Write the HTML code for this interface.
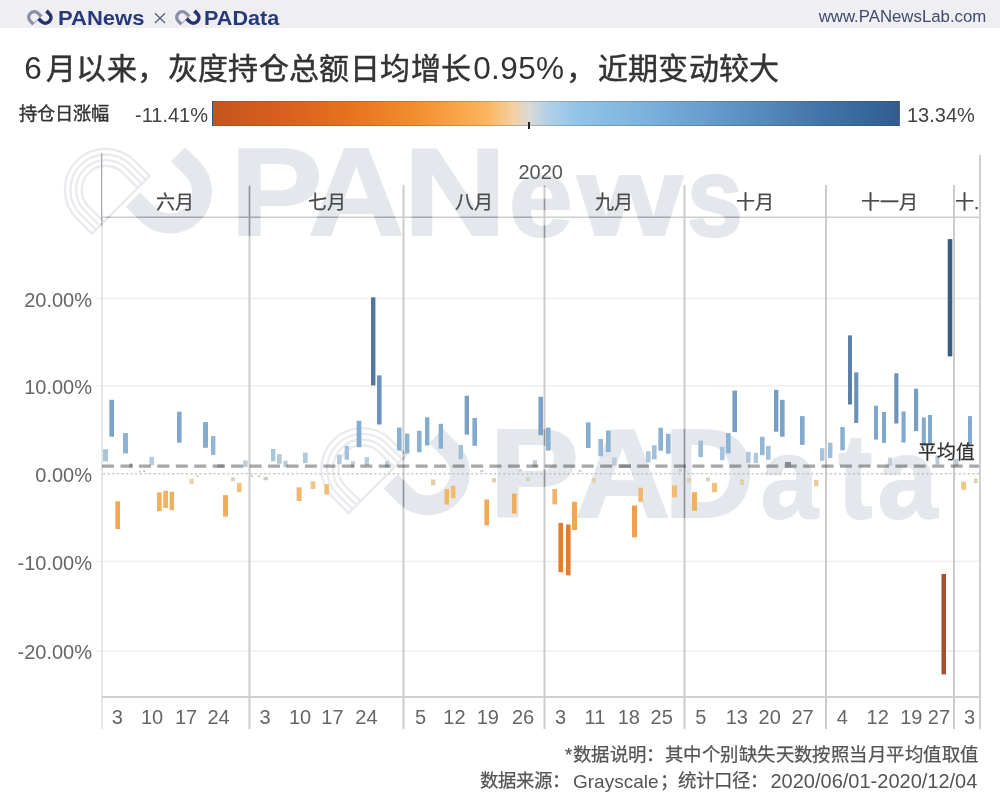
<!DOCTYPE html><html lang="zh-CN"><head><meta charset="utf-8"><style>
*{margin:0;padding:0;box-sizing:border-box}
html,body{width:1000px;height:800px;overflow:hidden;background:#fff}
body{position:relative;font-family:"Liberation Sans", sans-serif;color:#333}
.a{position:absolute;white-space:nowrap;line-height:1}
.hdr{position:absolute;left:0;top:0;width:1000px;height:28px;background:#eeeef3}
.yl{position:absolute;right:908px;font-size:20px;color:#666;line-height:1}
.ml{position:absolute;font-size:19px;color:#4a4a4a;-webkit-text-stroke:0.25px #4a4a4a;line-height:1;transform:translateX(-50%)}
.dl{position:absolute;top:707px;font-size:20px;color:#666;line-height:1;transform:translateX(-50%)}
.t{position:absolute;white-space:nowrap;line-height:1;font-size:30px;color:#333;top:54.2px;-webkit-text-stroke:0.45px #333}
.td{position:absolute;white-space:nowrap;line-height:1;font-size:31.5px;color:#333;top:52.8px}

</style></head><body>
<div class="hdr"></div>
<svg class="a" style="left:0;top:0" width="1000" height="800" viewBox="0 0 1000 800">
<defs><mask id="wmm" maskUnits="userSpaceOnUse" x="0" y="0" width="1000" height="800"><rect width="1000" height="800" fill="#000"/><g>
<path d="M149.65,175.95 L134.45,160.75 A40.80,40.80 0 0 0 76.75,218.45 L91.95,233.65" fill="none" stroke="#fff" stroke-width="2.3"/>
<path d="M145.69,179.91 L130.49,164.71 A35.20,35.20 0 0 0 80.71,214.49 L95.91,229.69" fill="none" stroke="#fff" stroke-width="2.3"/>
<path d="M141.73,183.87 L126.53,168.67 A29.60,29.60 0 0 0 84.67,210.53 L99.87,225.73" fill="none" stroke="#fff" stroke-width="2.3"/>
<path d="M137.77,187.83 L122.57,172.63 A24.00,24.00 0 0 0 88.63,206.57 L103.83,221.77" fill="none" stroke="#fff" stroke-width="2.3"/>
<path d="M150.50,175.10 L91.10,234.50" stroke="#fff" stroke-width="2.4"/>
<path d="M178.13,154.38 L192.63,168.87 A32.00,32.00 0 0 1 147.37,214.13 L132.88,199.63" fill="none" stroke="#fff" stroke-width="20"/>
<text transform="translate(230.33,235.00) scale(1.082,0.971)" font-family="Liberation Sans" font-weight="bold" font-size="128" fill="#fff" stroke="#fff" stroke-width="1.95" stroke-linejoin="round">P</text>
<text transform="translate(307.97,235.00) scale(1.045,0.971)" font-family="Liberation Sans" font-weight="bold" font-size="128" fill="#fff" stroke="#fff" stroke-width="1.98" stroke-linejoin="round">A</text>
<text transform="translate(403.23,235.00) scale(1.118,0.971)" font-family="Liberation Sans" font-weight="bold" font-size="128" fill="#fff" stroke="#fff" stroke-width="1.92" stroke-linejoin="round">N</text>
<text transform="translate(508.69,236.00) scale(0.903,0.871)" font-family="Liberation Sans" font-weight="bold" font-size="128" fill="#fff" stroke="#fff" stroke-width="2.25" stroke-linejoin="round">e</text>
<text transform="translate(577.40,235.00) scale(1.054,0.870)" font-family="Liberation Sans" font-weight="bold" font-size="128" fill="#fff" stroke="#fff" stroke-width="2.08" stroke-linejoin="round">w</text>
<text transform="translate(686.75,236.00) scale(0.788,0.882)" font-family="Liberation Sans" font-weight="bold" font-size="128" fill="#fff" stroke="#fff" stroke-width="2.40" stroke-linejoin="round">s</text>
<path d="M406.25,455.35 L391.05,440.15 A40.80,40.80 0 0 0 333.35,497.85 L348.55,513.05" fill="none" stroke="#fff" stroke-width="2.3"/>
<path d="M402.29,459.31 L387.09,444.11 A35.20,35.20 0 0 0 337.31,493.89 L352.51,509.09" fill="none" stroke="#fff" stroke-width="2.3"/>
<path d="M398.33,463.27 L383.13,448.07 A29.60,29.60 0 0 0 341.27,489.93 L356.47,505.13" fill="none" stroke="#fff" stroke-width="2.3"/>
<path d="M394.37,467.23 L379.17,452.03 A24.00,24.00 0 0 0 345.23,485.97 L360.43,501.17" fill="none" stroke="#fff" stroke-width="2.3"/>
<path d="M407.10,454.50 L347.70,513.90" stroke="#fff" stroke-width="2.4"/>
<path d="M436.03,436.18 L450.53,450.67 A32.00,32.00 0 0 1 405.27,495.93 L390.78,481.43" fill="none" stroke="#fff" stroke-width="20"/>
<text transform="translate(489.18,517.00) scale(1.053,0.992)" font-family="Liberation Sans" font-weight="bold" font-size="128" fill="#fff" stroke="#fff" stroke-width="1.96" stroke-linejoin="round">P</text>
<text transform="translate(574.70,517.00) scale(1.036,0.992)" font-family="Liberation Sans" font-weight="bold" font-size="128" fill="#fff" stroke="#fff" stroke-width="1.97" stroke-linejoin="round">A</text>
<text transform="translate(664.12,517.00) scale(0.978,0.992)" font-family="Liberation Sans" font-weight="bold" font-size="128" fill="#fff" stroke="#fff" stroke-width="2.03" stroke-linejoin="round">D</text>
<text transform="translate(760.69,518.00) scale(0.803,0.897)" font-family="Liberation Sans" font-weight="bold" font-size="128" fill="#fff" stroke="#fff" stroke-width="2.35" stroke-linejoin="round">a</text>
<text transform="translate(838.15,517.50) scale(0.800,0.935)" font-family="Liberation Sans" font-weight="bold" font-size="128" fill="#fff" stroke="#fff" stroke-width="2.31" stroke-linejoin="round">t</text>
<text transform="translate(877.86,518.00) scale(0.838,0.897)" font-family="Liberation Sans" font-weight="bold" font-size="128" fill="#fff" stroke="#fff" stroke-width="2.30" stroke-linejoin="round">a</text>
</g></mask></defs>
<g>
<path d="M149.65,175.95 L134.45,160.75 A40.80,40.80 0 0 0 76.75,218.45 L91.95,233.65" fill="none" stroke="#e9eaee" stroke-width="2.3"/>
<path d="M145.69,179.91 L130.49,164.71 A35.20,35.20 0 0 0 80.71,214.49 L95.91,229.69" fill="none" stroke="#e9eaee" stroke-width="2.3"/>
<path d="M141.73,183.87 L126.53,168.67 A29.60,29.60 0 0 0 84.67,210.53 L99.87,225.73" fill="none" stroke="#e9eaee" stroke-width="2.3"/>
<path d="M137.77,187.83 L122.57,172.63 A24.00,24.00 0 0 0 88.63,206.57 L103.83,221.77" fill="none" stroke="#e9eaee" stroke-width="2.3"/>
<path d="M150.50,175.10 L91.10,234.50" stroke="#e9eaee" stroke-width="2.4"/>
<path d="M178.13,154.38 L192.63,168.87 A32.00,32.00 0 0 1 147.37,214.13 L132.88,199.63" fill="none" stroke="#e4e8ed" stroke-width="20"/>
<text transform="translate(230.33,235.00) scale(1.082,0.971)" font-family="Liberation Sans" font-weight="bold" font-size="128" fill="#e4e8ed" stroke="#e4e8ed" stroke-width="1.95" stroke-linejoin="round">P</text>
<text transform="translate(307.97,235.00) scale(1.045,0.971)" font-family="Liberation Sans" font-weight="bold" font-size="128" fill="#e4e8ed" stroke="#e4e8ed" stroke-width="1.98" stroke-linejoin="round">A</text>
<text transform="translate(403.23,235.00) scale(1.118,0.971)" font-family="Liberation Sans" font-weight="bold" font-size="128" fill="#e4e8ed" stroke="#e4e8ed" stroke-width="1.92" stroke-linejoin="round">N</text>
<text transform="translate(508.69,236.00) scale(0.903,0.871)" font-family="Liberation Sans" font-weight="bold" font-size="128" fill="#e4e8ed" stroke="#e4e8ed" stroke-width="2.25" stroke-linejoin="round">e</text>
<text transform="translate(577.40,235.00) scale(1.054,0.870)" font-family="Liberation Sans" font-weight="bold" font-size="128" fill="#e4e8ed" stroke="#e4e8ed" stroke-width="2.08" stroke-linejoin="round">w</text>
<text transform="translate(686.75,236.00) scale(0.788,0.882)" font-family="Liberation Sans" font-weight="bold" font-size="128" fill="#e4e8ed" stroke="#e4e8ed" stroke-width="2.40" stroke-linejoin="round">s</text>
<path d="M406.25,455.35 L391.05,440.15 A40.80,40.80 0 0 0 333.35,497.85 L348.55,513.05" fill="none" stroke="#e9eaee" stroke-width="2.3"/>
<path d="M402.29,459.31 L387.09,444.11 A35.20,35.20 0 0 0 337.31,493.89 L352.51,509.09" fill="none" stroke="#e9eaee" stroke-width="2.3"/>
<path d="M398.33,463.27 L383.13,448.07 A29.60,29.60 0 0 0 341.27,489.93 L356.47,505.13" fill="none" stroke="#e9eaee" stroke-width="2.3"/>
<path d="M394.37,467.23 L379.17,452.03 A24.00,24.00 0 0 0 345.23,485.97 L360.43,501.17" fill="none" stroke="#e9eaee" stroke-width="2.3"/>
<path d="M407.10,454.50 L347.70,513.90" stroke="#e9eaee" stroke-width="2.4"/>
<path d="M436.03,436.18 L450.53,450.67 A32.00,32.00 0 0 1 405.27,495.93 L390.78,481.43" fill="none" stroke="#e4e8ed" stroke-width="20"/>
<text transform="translate(489.18,517.00) scale(1.053,0.992)" font-family="Liberation Sans" font-weight="bold" font-size="128" fill="#e4e8ed" stroke="#e4e8ed" stroke-width="1.96" stroke-linejoin="round">P</text>
<text transform="translate(574.70,517.00) scale(1.036,0.992)" font-family="Liberation Sans" font-weight="bold" font-size="128" fill="#e4e8ed" stroke="#e4e8ed" stroke-width="1.97" stroke-linejoin="round">A</text>
<text transform="translate(664.12,517.00) scale(0.978,0.992)" font-family="Liberation Sans" font-weight="bold" font-size="128" fill="#e4e8ed" stroke="#e4e8ed" stroke-width="2.03" stroke-linejoin="round">D</text>
<text transform="translate(760.69,518.00) scale(0.803,0.897)" font-family="Liberation Sans" font-weight="bold" font-size="128" fill="#e4e8ed" stroke="#e4e8ed" stroke-width="2.35" stroke-linejoin="round">a</text>
<text transform="translate(838.15,517.50) scale(0.800,0.935)" font-family="Liberation Sans" font-weight="bold" font-size="128" fill="#e4e8ed" stroke="#e4e8ed" stroke-width="2.31" stroke-linejoin="round">t</text>
<text transform="translate(877.86,518.00) scale(0.838,0.897)" font-family="Liberation Sans" font-weight="bold" font-size="128" fill="#e4e8ed" stroke="#e4e8ed" stroke-width="2.30" stroke-linejoin="round">a</text>
</g>
<rect x="96" y="297.75" width="884" height="1.5" fill="#eeeeee"/>
<rect x="96" y="385.15" width="884" height="1.5" fill="#eeeeee"/>
<rect x="96" y="560.65" width="884" height="1.5" fill="#eeeeee"/>
<rect x="96" y="650.25" width="884" height="1.5" fill="#eeeeee"/>
<rect x="101" y="218" width="2" height="511" fill="#e6e6e6"/>
<rect x="101" y="153" width="1.3" height="65" fill="#a9a9a9"/>
<rect x="979" y="155" width="2" height="574" fill="#d0d0d0"/>
<rect x="248.5" y="185" width="2" height="544" fill="#cccccc"/>
<rect x="402.5" y="185" width="2" height="544" fill="#cccccc"/>
<rect x="543.5" y="185" width="2" height="544" fill="#cccccc"/>
<rect x="683.5" y="185" width="2" height="544" fill="#cccccc"/>
<rect x="825" y="185" width="2" height="544" fill="#cccccc"/>
<rect x="953" y="185" width="2" height="544" fill="#cccccc"/>
<rect x="102" y="216.5" width="878" height="1.5" fill="#cdcdcd"/>
<rect x="102" y="696" width="878" height="2" fill="#d0d0d0"/>
<g mask="url(#wmm)">
<rect x="248.8" y="186" width="1.4" height="543" fill="#8e929c"/>
<rect x="402.8" y="186" width="1.4" height="543" fill="#8e929c"/>
<rect x="543.8" y="186" width="1.4" height="543" fill="#8e929c"/>
<rect x="683.8" y="186" width="1.4" height="543" fill="#8e929c"/>
<rect x="825.3" y="186" width="1.4" height="543" fill="#8e929c"/>
<rect x="101" y="218" width="1.4" height="511" fill="#9a9ea8"/>
<rect x="102" y="216.6" width="878" height="1.3" fill="#a2a6b0"/>
</g>
<line x1="103" y1="473.8" x2="979" y2="473.8" stroke="#b0b0b0" stroke-width="1" stroke-dasharray="2.2 2.4"/>
<rect x="103" y="449.2" width="5.0" height="12.2" fill="#a8c6dd"/>
<rect x="109.4" y="399.8" width="4.6" height="36.9" fill="#7ca3c7"/>
<rect x="115.4" y="501.3" width="4.6" height="27.7" fill="#f2a653"/>
<rect x="123" y="433.1" width="5.0" height="20.3" fill="#8cb3d4"/>
<rect x="149.4" y="456.8" width="4.6" height="8.4" fill="#b9cad8"/>
<rect x="157" y="492.4" width="4.6" height="18.8" fill="#efb060"/>
<rect x="163.2" y="490.8" width="4.8" height="17.2" fill="#f0b263"/>
<rect x="169.6" y="491.8" width="4.4" height="18.2" fill="#efb060"/>
<rect x="177" y="411.7" width="4.6" height="31.0" fill="#7ea8cd"/>
<rect x="189.4" y="478.7" width="4.2" height="5.1" fill="#e0d3aa"/>
<rect x="203" y="422.0" width="5.0" height="25.8" fill="#85add0"/>
<rect x="211" y="436.1" width="4.4" height="18.8" fill="#91b6d6"/>
<rect x="223" y="495.1" width="5.0" height="21.5" fill="#f0ad5c"/>
<rect x="231" y="477.4" width="4.0" height="3.8" fill="#d5d1b6"/>
<rect x="237" y="482.9" width="4.6" height="9.3" fill="#f3bf79"/>
<rect x="251" y="475.4" width="2.0" height="1.8" fill="#cccec3"/>
<rect x="263.4" y="476.9" width="4.6" height="3.3" fill="#d1d0ba"/>
<rect x="271" y="449.0" width="4.4" height="12.3" fill="#a8c6dd"/>
<rect x="277" y="454.1" width="4.6" height="9.7" fill="#b3c9da"/>
<rect x="283.4" y="460.6" width="4.2" height="6.5" fill="#c0ccd5"/>
<rect x="296.6" y="487.3" width="5.0" height="13.7" fill="#f1b86d"/>
<rect x="303" y="452.6" width="4.6" height="10.5" fill="#b0c8db"/>
<rect x="310.6" y="481.3" width="4.8" height="7.7" fill="#eec688"/>
<rect x="324.4" y="484.1" width="4.6" height="10.5" fill="#f2bd75"/>
<rect x="337" y="454.7" width="4.6" height="9.5" fill="#b4c9d9"/>
<rect x="344.6" y="445.9" width="4.4" height="13.9" fill="#a2c2db"/>
<rect x="351" y="461.3" width="4.0" height="6.1" fill="#c0ccd5"/>
<rect x="356.6" y="420.8" width="4.8" height="26.4" fill="#84acd0"/>
<rect x="364.6" y="457.1" width="4.4" height="8.2" fill="#bacbd8"/>
<rect x="371" y="297.3" width="4.4" height="88.1" fill="#52769c"/>
<rect x="377" y="375.4" width="4.6" height="49.1" fill="#6c93ba"/>
<rect x="385" y="461.1" width="4.0" height="6.2" fill="#c0ccd5"/>
<rect x="397" y="427.6" width="4.6" height="23.0" fill="#88b0d2"/>
<rect x="405" y="433.6" width="4.4" height="20.0" fill="#8db3d4"/>
<rect x="417" y="430.8" width="4.6" height="21.4" fill="#8ab2d3"/>
<rect x="425" y="417.3" width="4.4" height="28.2" fill="#81abcf"/>
<rect x="431" y="479.5" width="4.4" height="5.9" fill="#e5d0a0"/>
<rect x="438.6" y="423.8" width="4.4" height="24.9" fill="#86aed1"/>
<rect x="444.6" y="489.1" width="4.4" height="15.5" fill="#f0b568"/>
<rect x="451" y="485.9" width="4.4" height="12.3" fill="#f2ba71"/>
<rect x="458.6" y="445.0" width="4.4" height="14.3" fill="#a1c1db"/>
<rect x="464.6" y="395.7" width="4.4" height="38.9" fill="#7ba2c6"/>
<rect x="472.4" y="418.0" width="4.6" height="27.8" fill="#82abcf"/>
<rect x="484.4" y="499.5" width="4.6" height="25.9" fill="#f1a856"/>
<rect x="512" y="493.6" width="4.6" height="20.0" fill="#efae5e"/>
<rect x="532.6" y="460.3" width="4.4" height="6.7" fill="#bfccd6"/>
<rect x="538.4" y="396.8" width="4.6" height="38.4" fill="#7ba2c6"/>
<rect x="546" y="427.6" width="4.6" height="23.0" fill="#88b0d2"/>
<rect x="552.4" y="489.0" width="4.6" height="15.4" fill="#f0b568"/>
<rect x="558.4" y="522.9" width="4.6" height="49.3" fill="#e07f34"/>
<rect x="566" y="524.5" width="4.6" height="50.9" fill="#de7d33"/>
<rect x="572" y="501.8" width="5.0" height="28.2" fill="#f2a653"/>
<rect x="586" y="422.4" width="4.6" height="25.6" fill="#85add0"/>
<rect x="598.4" y="439.0" width="4.6" height="17.3" fill="#96bad7"/>
<rect x="606" y="430.5" width="4.6" height="21.6" fill="#8ab2d3"/>
<rect x="612" y="457.5" width="4.6" height="8.1" fill="#bacbd7"/>
<rect x="632" y="505.5" width="5.0" height="31.9" fill="#ef9f4d"/>
<rect x="638.4" y="487.7" width="4.6" height="14.1" fill="#f1b76c"/>
<rect x="646" y="451.3" width="4.6" height="11.1" fill="#adc7db"/>
<rect x="652" y="445.2" width="4.6" height="14.2" fill="#a1c1db"/>
<rect x="658.4" y="427.8" width="4.6" height="22.9" fill="#88b0d2"/>
<rect x="666" y="433.8" width="4.6" height="19.9" fill="#8db4d4"/>
<rect x="672" y="485.5" width="5.0" height="11.9" fill="#f2bb71"/>
<rect x="692" y="492.2" width="5.0" height="18.6" fill="#efb060"/>
<rect x="698.4" y="440.6" width="4.6" height="16.5" fill="#99bcd8"/>
<rect x="712" y="482.9" width="5.0" height="9.3" fill="#f3bf79"/>
<rect x="720" y="446.8" width="4.6" height="13.4" fill="#a4c3dc"/>
<rect x="726" y="433.1" width="4.6" height="20.3" fill="#8cb3d4"/>
<rect x="732.4" y="390.6" width="4.6" height="41.5" fill="#779ec3"/>
<rect x="746" y="451.9" width="4.6" height="10.9" fill="#aec8db"/>
<rect x="753.6" y="452.7" width="4.4" height="10.4" fill="#b0c8db"/>
<rect x="760" y="436.8" width="4.6" height="18.4" fill="#92b7d6"/>
<rect x="766" y="445.9" width="4.6" height="13.9" fill="#a2c2db"/>
<rect x="774" y="389.8" width="4.4" height="41.9" fill="#769dc2"/>
<rect x="780" y="399.8" width="4.6" height="36.9" fill="#7ca3c7"/>
<rect x="800" y="416.1" width="4.6" height="28.8" fill="#81aace"/>
<rect x="814" y="479.9" width="4.4" height="6.3" fill="#e7cd9a"/>
<rect x="820" y="448.2" width="4.4" height="12.7" fill="#a6c5dc"/>
<rect x="828" y="442.7" width="4.4" height="15.4" fill="#9dbed9"/>
<rect x="840.3" y="427.1" width="4.5" height="23.2" fill="#88b0d2"/>
<rect x="848" y="335.4" width="4.0" height="69.1" fill="#5a80ab"/>
<rect x="854.2" y="372.4" width="4.1" height="50.6" fill="#6a91b9"/>
<rect x="874" y="405.7" width="4.0" height="33.9" fill="#7da6ca"/>
<rect x="882" y="412.0" width="4.0" height="30.8" fill="#7ea8cd"/>
<rect x="888.2" y="457.8" width="3.8" height="7.9" fill="#bbcbd7"/>
<rect x="894.3" y="373.3" width="4.1" height="50.2" fill="#6b92b9"/>
<rect x="901.5" y="411.5" width="4.1" height="31.0" fill="#7ea8cd"/>
<rect x="914" y="388.7" width="4.2" height="42.4" fill="#769dc2"/>
<rect x="921.8" y="417.5" width="4.0" height="28.1" fill="#82abcf"/>
<rect x="928" y="415.0" width="4.0" height="29.3" fill="#80a9ce"/>
<rect x="935.5" y="455.4" width="3.9" height="9.1" fill="#b6cad9"/>
<rect x="941.5" y="574.0" width="4.5" height="100.4" fill="#a84c33"/>
<rect x="947.7" y="239.1" width="4.6" height="117.3" fill="#385c82"/>
<rect x="954.7" y="458.9" width="3.8" height="7.4" fill="#bdccd6"/>
<rect x="961.2" y="481.7" width="4.8" height="8.1" fill="#f0c483"/>
<rect x="968" y="416.1" width="4.0" height="28.8" fill="#81aace"/>
<rect x="974" y="478.4" width="3.6" height="4.8" fill="#ded2ac"/>
<rect x="243.2" y="460.4" width="4.5" height="6.6" fill="#c0ccd5"/>
<rect x="143" y="470.1" width="2.5" height="1.8" fill="#c6ccce"/>
<rect x="139" y="470.7" width="2.0" height="1.8" fill="#c6ccce"/>
<rect x="196.5" y="475.4" width="2.0" height="1.8" fill="#cccec3"/>
<rect x="257.5" y="475.4" width="2.5" height="1.8" fill="#cccec3"/>
<rect x="480" y="470.1" width="3.5" height="1.8" fill="#c6ccce"/>
<rect x="518.5" y="469.2" width="3.5" height="2.2" fill="#c5cccf"/>
<rect x="492" y="478.0" width="4.0" height="4.4" fill="#dad2b0"/>
<rect x="526" y="477.5" width="4.0" height="3.9" fill="#d7d1b5"/>
<rect x="578.5" y="470.1" width="3.0" height="1.8" fill="#c6ccce"/>
<rect x="592" y="478.0" width="4.0" height="4.4" fill="#dad2b0"/>
<rect x="678.5" y="469.2" width="3.5" height="2.2" fill="#c5cccf"/>
<rect x="687" y="478.0" width="4.0" height="4.4" fill="#dad2b0"/>
<rect x="706" y="477.5" width="4.0" height="3.9" fill="#d7d1b5"/>
<rect x="740" y="479.3" width="4.0" height="5.7" fill="#e4d1a2"/>
<line x1="102" y1="466.1" x2="979" y2="466.1" stroke="#a8a8a8" stroke-width="3.2" stroke-dasharray="12 6.45" style="mix-blend-mode:multiply"/>
<rect x="129.2" y="463.7" width="3.4" height="3.8" fill="#85898e"/>
<rect x="217" y="464.5" width="7.4" height="3.2" fill="#85898e"/>
<rect x="619" y="464.5" width="12.0" height="3.3" fill="#85898e"/>
<rect x="785" y="462" width="6.0" height="5.7" fill="#85898e"/>
</svg>
<svg class="a" style="left:27px;top:10px;overflow:visible" width="27" height="16" viewBox="0 0 27 16"><path d="M14.08,6.27 L11.15,3.34 A5.52,5.52 0 0 0 3.34,11.15 L6.27,14.08" fill="none" stroke="#8a90a8" stroke-width="3.28"/><path d="M15.17,5.17 L5.17,15.17" stroke="#8a90a8" stroke-width="1"/><path d="M19.45,0.86 L22.26,3.67 A5.52,5.52 0 0 1 14.45,11.48 L11.65,8.67" fill="none" stroke="#26336e" stroke-width="3.62"/></svg>
<div class="a" style="left:57.5px;top:7.8px;font-size:20px;font-weight:bold;color:#263a7a;transform-origin:0 0;transform:scaleX(1.1)">PANews</div>
<svg class="a" style="left:0;top:0" width="300" height="28"><path d="M155,13.2 L165,23 M165,13.2 L155,23" stroke="#5a6078" stroke-width="1.3"/></svg>
<svg class="a" style="left:175px;top:10px;overflow:visible" width="27" height="16" viewBox="0 0 27 16"><path d="M14.08,6.27 L11.15,3.34 A5.52,5.52 0 0 0 3.34,11.15 L6.27,14.08" fill="none" stroke="#8a90a8" stroke-width="3.28"/><path d="M15.17,5.17 L5.17,15.17" stroke="#8a90a8" stroke-width="1"/><path d="M19.45,0.86 L22.26,3.67 A5.52,5.52 0 0 1 14.45,11.48 L11.65,8.67" fill="none" stroke="#26336e" stroke-width="3.62"/></svg>
<div class="a" style="left:203.5px;top:7.8px;font-size:20px;font-weight:bold;color:#263a7a;transform-origin:0 0;transform:scaleX(1.08)">PAData</div>
<div class="a" style="left:818.7px;top:9.3px;font-size:16.8px;color:#3e4b6c">www.PANewsLab.com</div>
<div class="td" style="left:24.2px">6</div>
<div class="t" style="left:46px;letter-spacing:0.38px">月以来，灰度持仓总额日均增长</div>
<div class="td" style="left:473.2px;letter-spacing:0.4px">0.95%</div>
<div class="t" style="left:566px">，</div>
<div class="t" style="left:598px;letter-spacing:0.2px">近期变动较大</div>
<div class="a" style="left:18.5px;top:104.5px;font-size:18.2px;color:#333;-webkit-text-stroke:0.35px #333">持仓日涨幅</div>
<div class="a" style="left:135px;top:105px;font-size:20px;color:#444">-11.41%</div>
<div class="a" style="left:212px;top:101px;width:688px;height:25px;border:1px solid rgba(60,60,60,.25);background:linear-gradient(to right,#c4541f 0%,#d8601f 10%,#e6731f 20%,#f28f30 30%,#fcb65e 40%,#f4d0a2 43.8%,#d8d9d6 46.2%,#b0d1e8 48.8%,#90c3e6 53.5%,#7cb2dc 63%,#5d91c4 77%,#4273a8 89%,#305d90 100%)"></div>
<div class="a" style="left:528px;top:122px;width:2px;height:7px;background:#222"></div>
<div class="a" style="left:907px;top:105px;font-size:20px;color:#444">13.34%</div>
<div class="a" style="left:518.5px;top:162px;font-size:20px;color:#555">2020</div>
<div class="ml" style="left:175px;top:192.9px">六月</div>
<div class="ml" style="left:326.5px;top:192.9px">七月</div>
<div class="ml" style="left:474px;top:192.9px">八月</div>
<div class="ml" style="left:614px;top:192.9px">九月</div>
<div class="ml" style="left:755px;top:192.9px">十月</div>
<div class="ml" style="left:889.7px;top:192.9px">十一月</div>
<div class="a" style="left:955px;top:192.9px;font-size:19px;color:#4a4a4a;-webkit-text-stroke:0.25px #4a4a4a">十.</div>
<div class="yl" style="top:289.9px">20.00%</div>
<div class="yl" style="top:377.29999999999995px">10.00%</div>
<div class="yl" style="top:465.0px">0.00%</div>
<div class="yl" style="top:552.8px">-10.00%</div>
<div class="yl" style="top:642.4px">-20.00%</div>
<div class="dl" style="left:117.2px">3</div>
<div class="dl" style="left:152px">10</div>
<div class="dl" style="left:186px">17</div>
<div class="dl" style="left:218.5px">24</div>
<div class="dl" style="left:265px">3</div>
<div class="dl" style="left:300px">10</div>
<div class="dl" style="left:332.4px">17</div>
<div class="dl" style="left:366.4px">24</div>
<div class="dl" style="left:420.5px">5</div>
<div class="dl" style="left:454.4px">12</div>
<div class="dl" style="left:487.8px">19</div>
<div class="dl" style="left:523px">26</div>
<div class="dl" style="left:560.6px">3</div>
<div class="dl" style="left:595px">11</div>
<div class="dl" style="left:628.8px">18</div>
<div class="dl" style="left:661.7px">25</div>
<div class="dl" style="left:700.8px">5</div>
<div class="dl" style="left:736.8px">13</div>
<div class="dl" style="left:769.7px">20</div>
<div class="dl" style="left:802.5px">27</div>
<div class="dl" style="left:842.4px">4</div>
<div class="dl" style="left:877.7px">12</div>
<div class="dl" style="left:911.3px">19</div>
<div class="dl" style="left:938.9px">27</div>
<div class="dl" style="left:969.5px">3</div>
<div class="a" style="left:918px;top:443.6px;font-size:18.8px;color:#333;-webkit-text-stroke:0.25px #333">平均值</div>
<div class="a" style="left:565px;top:745.5px;font-size:18.4px;color:#555;-webkit-text-stroke:0.25px #555;letter-spacing:0.45px">*数据说明：其中个别缺失天数按照当月平均值取值</div>
<div class="a" style="left:480px;top:772px;font-size:18.4px;color:#555;-webkit-text-stroke:0.25px #555">数据来源：</div>
<div class="a" style="left:573px;top:772px;font-size:19px;color:#555">Grayscale</div>
<div class="a" style="left:660px;top:772px;font-size:18.4px;color:#555;-webkit-text-stroke:0.25px #555">；统计口径：</div>
<div class="a" style="left:770.5px;top:771.3px;font-size:20px;color:#555">2020/06/01-2020/12/04</div>
</body></html>
